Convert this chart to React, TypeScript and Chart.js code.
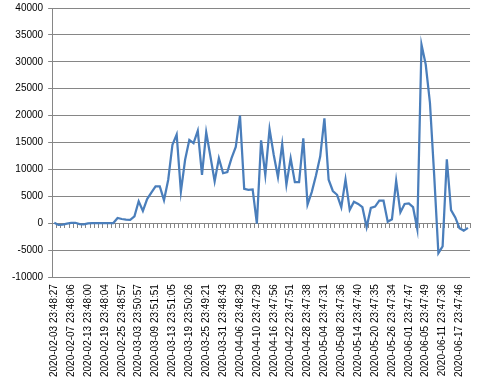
import React, { useEffect, useRef } from "react";
import { Chart, registerables } from "chart.js";

Chart.register(...registerables);

const categories: string[] = [
  "2020-02-03 23:48:27", "2020-02-04 23:48:12", "2020-02-05 23:48:20", "2020-02-06 23:48:15",
  "2020-02-07 23:48:06", "2020-02-10 23:48:11", "2020-02-11 23:48:09", "2020-02-12 23:48:03",
  "2020-02-13 23:48:00", "2020-02-14 23:48:08", "2020-02-17 23:48:02", "2020-02-18 23:48:06",
  "2020-02-19 23:48:04", "2020-02-20 23:48:30", "2020-02-21 23:48:41", "2020-02-24 23:48:50",
  "2020-02-25 23:48:57", "2020-02-26 23:49:20", "2020-02-27 23:49:45", "2020-03-02 23:50:30",
  "2020-03-03 23:50:57", "2020-03-04 23:51:10", "2020-03-05 23:51:25", "2020-03-06 23:51:40",
  "2020-03-09 23:51:51", "2020-03-10 23:51:40", "2020-03-11 23:51:30", "2020-03-12 23:51:15",
  "2020-03-13 23:51:05", "2020-03-16 23:50:55", "2020-03-17 23:50:45", "2020-03-18 23:50:35",
  "2020-03-19 23:50:26", "2020-03-20 23:50:10", "2020-03-23 23:49:55", "2020-03-24 23:49:40",
  "2020-03-25 23:49:21", "2020-03-26 23:49:10", "2020-03-27 23:49:00", "2020-03-30 23:48:50",
  "2020-03-31 23:48:43", "2020-04-01 23:48:40", "2020-04-02 23:48:36", "2020-04-03 23:48:33",
  "2020-04-06 23:48:29", "2020-04-07 23:48:10", "2020-04-08 23:47:55", "2020-04-09 23:47:40",
  "2020-04-10 23:47:29", "2020-04-13 23:47:35", "2020-04-14 23:47:44", "2020-04-15 23:47:50",
  "2020-04-16 23:47:56", "2020-04-17 23:47:54", "2020-04-20 23:47:53", "2020-04-21 23:47:52",
  "2020-04-22 23:47:51", "2020-04-23 23:47:48", "2020-04-24 23:47:45", "2020-04-27 23:47:41",
  "2020-04-28 23:47:38", "2020-04-29 23:47:36", "2020-04-30 23:47:34", "2020-05-01 23:47:33",
  "2020-05-04 23:47:31", "2020-05-05 23:47:32", "2020-05-06 23:47:34", "2020-05-07 23:47:35",
  "2020-05-08 23:47:36", "2020-05-11 23:47:37", "2020-05-12 23:47:38", "2020-05-13 23:47:39",
  "2020-05-14 23:47:40", "2020-05-15 23:47:39", "2020-05-18 23:47:37", "2020-05-19 23:47:36",
  "2020-05-20 23:47:35", "2020-05-21 23:47:35", "2020-05-22 23:47:34", "2020-05-25 23:47:34",
  "2020-05-26 23:47:34", "2020-05-27 23:47:37", "2020-05-28 23:47:40", "2020-05-29 23:47:44",
  "2020-06-01 23:47:47", "2020-06-02 23:47:48", "2020-06-03 23:47:48", "2020-06-04 23:47:49",
  "2020-06-05 23:47:49", "2020-06-08 23:47:45", "2020-06-09 23:47:41", "2020-06-10 23:47:38",
  "2020-06-11 23:47:36", "2020-06-12 23:47:39", "2020-06-15 23:47:41", "2020-06-16 23:47:44",
  "2020-06-17 23:47:46", "2020-06-18 23:47:45", "2020-06-19 23:47:47",
];

const values: number[] = [
  100, -300, -250, -50, 100, 100, -150, -200, 0, 50,
  50, 50, 50, 50, 50, 1000, 800, 700, 650, 1300,
  4100, 2300, 4500, 5700, 6850, 6850, 4300, 8100, 14600, 16500,
  5900, 11800, 15500, 14900, 17200, 9000, 16900, 12400, 7800, 12100,
  9300, 9500, 12100, 14200, 20000, 6400, 6200, 6300, -50, 15400,
  9000, 17500, 12700, 8600, 14700, 7200, 12100, 7650, 7650, 15800,
  3500, 5800, 8900, 12400, 19500, 8100, 6000, 5300, 3000, 8150,
  2500, 4000, 3600, 3000, -700, 2850, 3100, 4200, 4200, 300,
  750, 7900, 2050, 3600, 3700, 3000, -1050, 33200, 29500, 22400,
  9000, -5550, -4300, 11900, 2450, 1100, -900, -1350, -850,
];

const labelEvery = 4;
const yMin = -10000;
const yMax = 40000;
const yStep = 5000;

const GRID = "#868686";
const LINE = "#4a7ebb";
const FONT = { family: "'Liberation Sans', Arial, sans-serif", size: 10 };

export default function App() {
  const ref = useRef<HTMLCanvasElement>(null);
  useEffect(() => {
    document.body.style.margin = "0";
    const ctx = ref.current!;
    const chart = new Chart(ctx, {
      type: "line",
      data: {
        labels: categories,
        datasets: [
          {
            data: values,
            borderColor: LINE,
            borderWidth: 2.25,
            pointRadius: 0,
            fill: false,
            tension: 0,
            xAxisID: "x",
            yAxisID: "y",
          },
        ],
      },
      options: {
        responsive: false,
        animation: false,
        layout: { padding: { left: 7, right: 13, top: 0, bottom: -4 } },
        plugins: { legend: { display: false }, tooltip: { enabled: false } },
        scales: {
          x: {
            type: "category",
            position: "bottom",
            offset: true,
            grid: { display: false, drawTicks: false },
            border: { display: false },
            ticks: {
              autoSkip: false,
              maxRotation: 90,
              minRotation: 90,
              padding: 7,
              color: "#000",
              font: FONT,
              callback: (_v: any, i: number) => (i % labelEvery === 0 ? categories[i] : ""),
            },
          },
          x0: {
            type: "category",
            axis: "x",
            position: { y: 0 } as any,
            offset: true,
            grid: {
              offset: true,
              drawOnChartArea: false,
              drawTicks: true,
              tickLength: 4,
              color: GRID,
            },
            border: { display: true, color: GRID, width: 1 },
            ticks: { display: false },
          },
          y: {
            min: yMin,
            max: yMax,
            grid: { color: GRID, tickLength: 4, drawTicks: true },
            border: { display: true, color: GRID },
            ticks: {
              stepSize: yStep,
              padding: 5,
              color: "#000",
              font: { ...FONT, lineHeight: 0.6 },
              callback: (v: any) => String(v),
            },
          },
        },
      },
    });
    return () => chart.destroy();
  }, []);
  return <canvas ref={ref} width={487} height={380} style={{ display: "block" }} />;
}
